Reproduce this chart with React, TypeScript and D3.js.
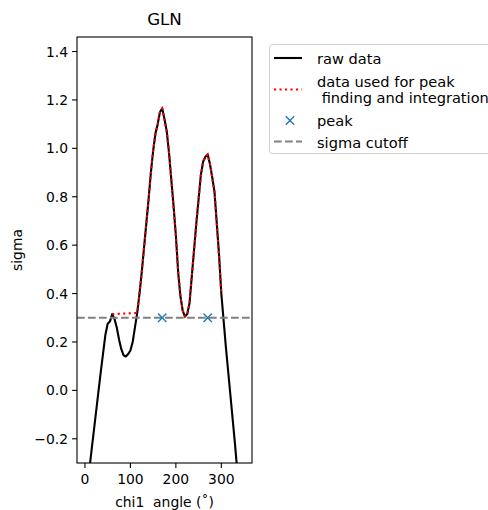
import React from 'react';
import * as d3 from 'd3';

// chi1 angle samples and sigma values
const angles = [
  0, 5, 10, 15, 20, 25, 30, 35, 40, 45, 50, 55, 60, 65, 70, 75, 80, 85, 90, 95,
  100, 105, 110, 115, 120, 125, 130, 135, 140, 145, 150, 155, 160, 165, 170,
  175, 180, 185, 190, 195, 200, 205, 210, 215, 220, 225, 230, 235, 240, 245,
  250, 255, 260, 265, 270, 275, 280, 285, 290, 295, 300, 305, 310, 315, 320,
  325, 330, 335, 340, 345, 350,
];
const sigma = [
  -0.48, -0.4, -0.32, -0.24, -0.16, -0.08, 0.0, 0.08, 0.155, 0.23, 0.275, 0.285,
  0.315, 0.295, 0.26, 0.21, 0.17, 0.145, 0.14, 0.15, 0.165, 0.2, 0.26, 0.32,
  0.4, 0.49, 0.59, 0.69, 0.79, 0.9, 0.99, 1.06, 1.1, 1.15, 1.165, 1.12, 1.07,
  0.98, 0.87, 0.76, 0.64, 0.49, 0.39, 0.33, 0.305, 0.315, 0.36, 0.47, 0.58,
  0.69, 0.79, 0.89, 0.945, 0.965, 0.975, 0.935, 0.88, 0.82, 0.69, 0.56, 0.4,
  0.29, 0.18, 0.08, -0.02, -0.12, -0.22, -0.33, -0.44, -0.55, -0.65,
];
const cutoff = 0.3;
const peakAngles = [170, 270];
const xTicks = [0, 100, 200, 300];
const yTicks = [-0.2, 0.0, 0.2, 0.4, 0.6, 0.8, 1.0, 1.2, 1.4];
const legendLabels = ['raw data', 'data used for peak', ' finding and integration', 'peak', 'sigma cutoff'];

const W = 488;
const H = 510;
const margin = {top: 37, right: 236, bottom: 47, left: 77};
const FONT = "'DejaVu Sans', sans-serif";
const LEG = 14.6;

export default function App() {
  const x = d3
    .scaleLinear()
    .domain([-17.5, 367.5])
    .range([margin.left, W - margin.right]);
  const y = d3
    .scaleLinear()
    .domain([-0.3, 1.46])
    .range([H - margin.bottom, margin.top]);

  const points = angles.map((a, i) => ({a, s: sigma[i]}));
  const used = points.filter(d => d.s >= cutoff);

  const line = d3
    .line<{a: number; s: number}>()
    .x(d => x(d.a))
    .y(d => y(d.s));

  const x0 = margin.left;
  const x1 = W - margin.right;
  const y0 = margin.top;
  const y1 = H - margin.bottom;
  const cx = (x0 + x1) / 2;

  // little x marker
  const cross = (px: number, py: number, r: number, key: string) => (
    <path
      key={key}
      d={`M${px - r},${py - r}L${px + r},${py + r}M${px - r},${py + r}L${px + r},${py - r}`}
      stroke="#1f77b4"
      strokeWidth={1.4}
      fill="none"
    />
  );

  return (
    <svg
      width={W}
      height={H}
      style={{position: 'absolute', left: 0, top: 0, background: '#fff'}}
      fontFamily={FONT}
    >
      <defs>
        <clipPath id="plot">
          <rect x={x0} y={y0} width={x1 - x0} height={y1 - y0} />
        </clipPath>
      </defs>

      <g clipPath="url(#plot)">
        <path d={line(points) || ''} fill="none" stroke="#000" strokeWidth={2.1} strokeLinejoin="round" />
        <path
          d={line(used) || ''}
          fill="none"
          stroke="#ff0000"
          strokeWidth={2.1}
          strokeDasharray="2.1,3.4"
        />
        <line x1={x0} x2={x1} y1={y(cutoff)} y2={y(cutoff)} stroke="#808080" strokeWidth={2.1} strokeDasharray="7.7,3.3" />
        {peakAngles.map((a, i) => cross(x(a), y(cutoff), 4.2, 'p' + i))}
      </g>

      {/* spines */}
      <rect x={x0} y={y0} width={x1 - x0} height={y1 - y0} fill="none" stroke="#000" strokeWidth={1.1} />

      {/* x ticks */}
      {xTicks.map(t => (
        <g key={'x' + t}>
          <line x1={x(t)} x2={x(t)} y1={y1} y2={y1 + 4.9} stroke="#000" strokeWidth={1.1} />
          <text x={x(t)} y={y1 + 17} textAnchor="middle" fontSize={13.9} dominantBaseline="middle">
            {t}
          </text>
        </g>
      ))}

      {/* y ticks */}
      {yTicks.map(t => (
        <g key={'y' + t}>
          <line x1={x0 - 4.9} x2={x0} y1={y(t)} y2={y(t)} stroke="#000" strokeWidth={1.1} />
          <text x={x0 - 9} y={y(t)} textAnchor="end" fontSize={13.9} dominantBaseline="central">
            {t < 0 ? '\u2212' + Math.abs(t).toFixed(1) : t.toFixed(1)}
          </text>
        </g>
      ))}

      <text x={cx} y={20} textAnchor="middle" dominantBaseline="middle" fontSize={16.7}>
        GLN
      </text>
      <text x={cx} y={503} textAnchor="middle" dominantBaseline="middle" fontSize={13.9} style={{whiteSpace: 'pre'}}>
        {'chi1  angle (\u02da)'}
      </text>
      <text
        transform={`translate(18,${(y0 + y1) / 2}) rotate(-90)`}
        textAnchor="middle"
        dominantBaseline="middle"
        fontSize={13.9}
      >
        sigma
      </text>

      {/* legend */}
      <g>
        <rect x={269.5} y={44.5} width={240} height={109} rx={3} fill="#fff" fillOpacity={0.8} stroke="#d0d0d0" strokeWidth={1} />
        <line x1={274} x2={302} y1={58} y2={58} stroke="#000" strokeWidth={2.1} />
        <text x={317} y={58} fontSize={LEG} dominantBaseline="central">{legendLabels[0]}</text>
        <line x1={274} x2={302} y1={89.5} y2={89.5} stroke="#ff0000" strokeWidth={2.1} strokeDasharray="2.1,3.4" />
        <text x={317} y={81.5} fontSize={LEG} dominantBaseline="central">{legendLabels[1]}</text>
        <text x={317} y={97} fontSize={LEG} dominantBaseline="central" style={{whiteSpace: 'pre'}}>{legendLabels[2]}</text>
        {cross(290, 120.5, 4.2, 'lg')}
        <text x={317} y={120} fontSize={LEG} dominantBaseline="central">{legendLabels[3]}</text>
        <line x1={274} x2={302} y1={141.5} y2={141.5} stroke="#808080" strokeWidth={2.1} strokeDasharray="7.7,3.3" />
        <text x={317} y={142} fontSize={LEG} dominantBaseline="central">{legendLabels[4]}</text>
      </g>
    </svg>
  );
}
